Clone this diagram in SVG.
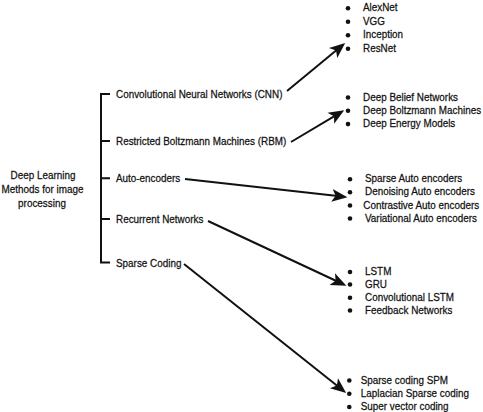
<svg xmlns="http://www.w3.org/2000/svg" width="483" height="412" viewBox="0 0 483 412">
<style>
text{font-family:"Liberation Sans",Arial,sans-serif;font-size:11.5px;fill:#111;stroke:#111;stroke-width:0.25}
.c{text-anchor:middle}
.br{stroke:#111;stroke-width:2;fill:none}
.ar{stroke:#111;stroke-width:2;fill:none;marker-end:url(#ah)}
.b{fill:#111}
</style>
<defs>
<marker id="ah" markerUnits="userSpaceOnUse" markerWidth="20" markerHeight="20" viewBox="-8 -8 16 16" refX="0" refY="0" orient="auto">
<path d="M6,0 L-6.5,-5.2 L-3.5,0 L-6.5,5.2 Z" fill="#111"/>
</marker>
</defs>
<rect width="483" height="412" fill="#fff"/>
<g id="root">
<text class="c" transform="translate(43,179) scale(0.86,1)">Deep Learning</text>
<text class="c" transform="translate(42.5,192.5) scale(0.86,1)">Methods for image</text>
<text class="c" transform="translate(42,206.5) scale(0.86,1)">processing</text>
</g>
<g id="bracket">
<path class="br" d="M110,94 H101 V262.5 H110 M101,141 H110 M101,178.3 H110 M101,219 H110"/>
</g>
<g id="cnn"><text transform="translate(116,98) scale(0.86,1)">Convolutional Neural Networks (CNN)</text></g>
<g id="rbm"><text transform="translate(116,145) scale(0.86,1)">Restricted Boltzmann Machines (RBM)</text></g>
<g id="ae"><text transform="translate(116,182.3) scale(0.86,1)">Auto-encoders</text></g>
<g id="rnn"><text transform="translate(116,223) scale(0.86,1)">Recurrent Networks</text></g>
<g id="sc"><text transform="translate(116,266.5) scale(0.86,1)">Sparse Coding</text></g>

<g id="list-cnn">
<circle class="b" cx="348" cy="8.3" r="2.3"/><text transform="translate(363,11.3) scale(0.86,1)">AlexNet</text>
<circle class="b" cx="348" cy="21.8" r="2.3"/><text transform="translate(363,24.8) scale(0.86,1)">VGG</text>
<circle class="b" cx="348" cy="35.3" r="2.3"/><text transform="translate(363,38.3) scale(0.86,1)">Inception</text>
<circle class="b" cx="348" cy="48.8" r="2.3"/><text transform="translate(363,51.8) scale(0.86,1)">ResNet</text>
</g>
<g id="list-rbm">
<circle class="b" cx="348" cy="97.5" r="2.3"/><text transform="translate(363,100.5) scale(0.86,1)">Deep Belief Networks</text>
<circle class="b" cx="348" cy="110.8" r="2.3"/><text transform="translate(363,113.8) scale(0.86,1)">Deep Boltzmann Machines</text>
<circle class="b" cx="348" cy="124.1" r="2.3"/><text transform="translate(363,127.1) scale(0.86,1)">Deep Energy Models</text>
</g>
<g id="list-ae">
<circle class="b" cx="350" cy="179.3" r="2.3"/><text transform="translate(365,182.3) scale(0.86,1)">Sparse Auto encoders</text>
<circle class="b" cx="350" cy="192.3" r="2.3"/><text transform="translate(365,195.3) scale(0.86,1)">Denoising Auto encoders</text>
<circle class="b" cx="350" cy="205.5" r="2.3"/><text transform="translate(363.3,208.5) scale(0.86,1)">Contrastive Auto encoders</text>
<circle class="b" cx="350" cy="218.5" r="2.3"/><text transform="translate(365,221.5) scale(0.86,1)">Variational Auto encoders</text>
</g>
<g id="list-rnn">
<circle class="b" cx="350" cy="272" r="2.3"/><text transform="translate(365,275) scale(0.86,1)">LSTM</text>
<circle class="b" cx="350" cy="284.5" r="2.3"/><text transform="translate(365,287.5) scale(0.86,1)">GRU</text>
<circle class="b" cx="350" cy="297.8" r="2.3"/><text transform="translate(365,300.8) scale(0.86,1)">Convolutional LSTM</text>
<circle class="b" cx="350" cy="310.5" r="2.3"/><text transform="translate(365,313.5) scale(0.86,1)">Feedback Networks</text>
</g>
<g id="list-sc">
<circle class="b" cx="349.3" cy="380.5" r="2.3"/><text transform="translate(360.7,383.5) scale(0.86,1)">Sparse coding SPM</text>
<circle class="b" cx="349.3" cy="393.8" r="2.3"/><text transform="translate(360.7,396.8) scale(0.86,1)">Laplacian Sparse coding</text>
<circle class="b" cx="349.3" cy="407" r="2.3"/><text transform="translate(360.7,410) scale(0.86,1)">Super vector coding</text>
</g>

<g id="connectors">
<line class="ar" x1="287" y1="91" x2="339.4" y2="47.8"/>
<line class="ar" x1="291" y1="142" x2="337.8" y2="114.1"/>
<line class="ar" x1="185" y1="179" x2="340" y2="196.3"/>
<line class="ar" x1="208" y1="221" x2="339.6" y2="282.5"/>
<line class="ar" x1="184" y1="264" x2="340.3" y2="388.3"/>
</g>
</svg>
